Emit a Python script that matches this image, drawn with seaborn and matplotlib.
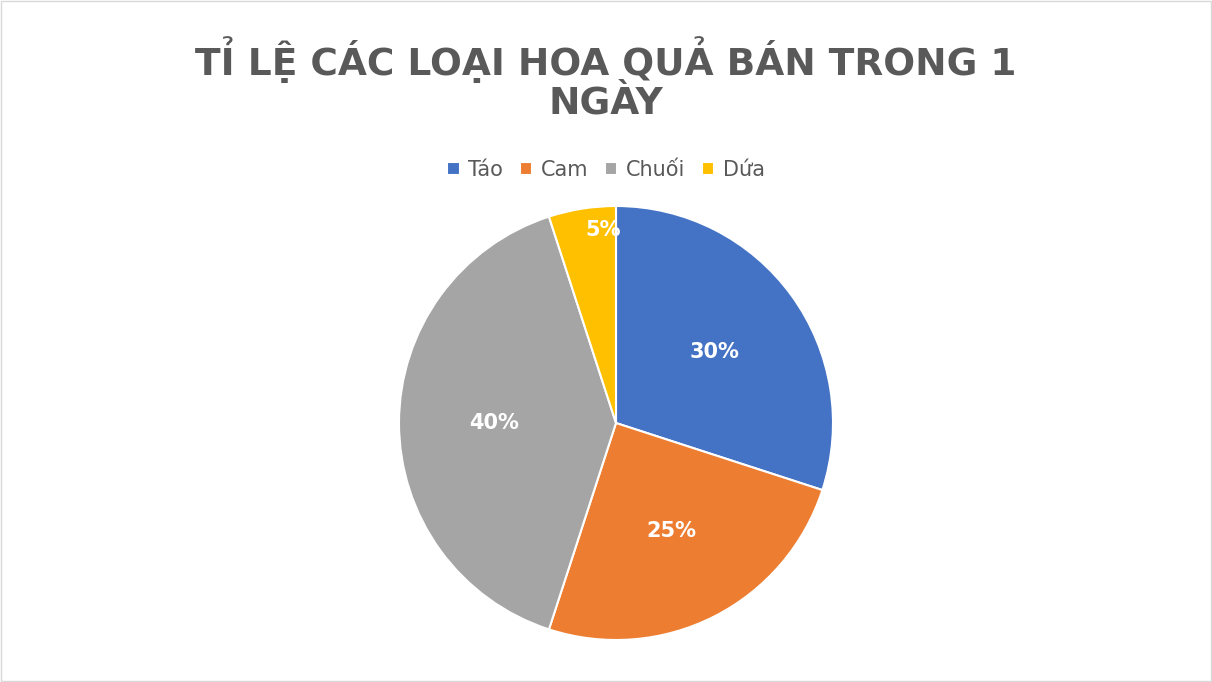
import matplotlib
matplotlib.use("Agg")
import matplotlib.pyplot as plt
import seaborn as sns
from matplotlib.patches import Rectangle

sns.set_theme(style="white")
plt.rcParams['font.family'] = ['DejaVu Sans']

categories = ["Táo", "Cam", "Chuối", "Dứa"]
values = [30, 25, 40, 5]
colors = ["#4472C4", "#ED7D31", "#A5A5A5", "#FFC000"]

fig = plt.figure(figsize=(12.12, 6.82), dpi=100)
fig.patch.set_facecolor("white")
fig.add_artist(Rectangle((0.001, 0.001), 0.998, 0.997, transform=fig.transFigure,
                         fill=False, edgecolor="#D9D9D9", linewidth=1))

r = 217
ax = fig.add_axes([(616 - r) / 1212, 1 - (423 + r) / 682, 2 * r / 1212, 2 * r / 682])
wedges, texts, autotexts = ax.pie(values, colors=colors, startangle=90, counterclock=False,
                                  autopct="%d%%", pctdistance=0.56,
                                  wedgeprops=dict(edgecolor="white", linewidth=1.5),
                                  textprops=dict(color="white", fontsize=15, fontweight="bold"))
autotexts[3].set_position((-0.06, 0.89))
ax.set_xlim(-1, 1)
ax.set_ylim(-1, 1)
ax.set_aspect("equal")

fig.text(0.5, 1 - 60 / 682, "TỈ LỆ CÁC LOẠI HOA QUẢ BÁN TRONG 1", ha="center", va="center",
         fontsize=27, fontweight="bold", color="#595959")
fig.text(0.5, 1 - 103 / 682, "NGÀY", ha="center", va="center",
         fontsize=27, fontweight="bold", color="#595959")

fig.legend(wedges, categories, loc="center", bbox_to_anchor=(0.5, 1 - 170 / 682), ncol=4,
           frameon=False, fontsize=15, handlelength=0.6, handleheight=0.6,
           columnspacing=0.8, handletextpad=0.4, labelcolor="#595959")

fig.savefig("out.png", dpi=100)
